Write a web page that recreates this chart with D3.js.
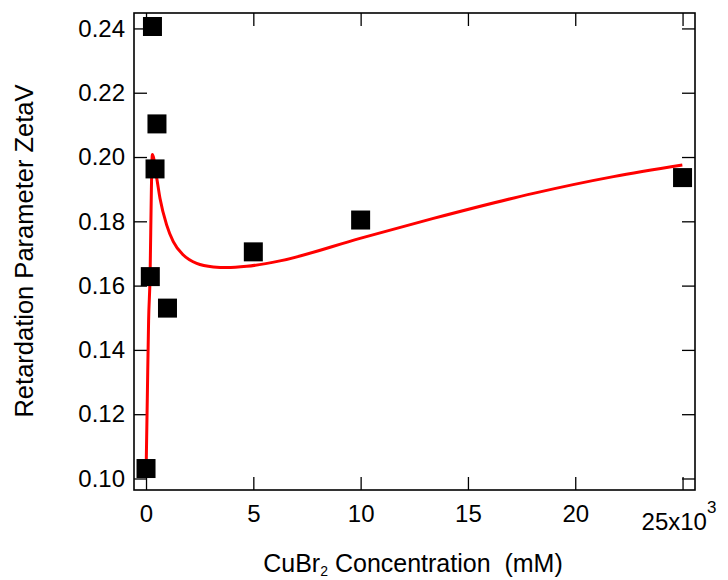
<!DOCTYPE html>
<html>
<head>
<meta charset="utf-8">
<script src="https://cdn.jsdelivr.net/npm/d3@7"></script>
<style>
  html, body { margin: 0; padding: 0; background: #fff; }
  svg { display: block; }
</style>
</head>
<body>
<svg id="chart" width="728" height="580"></svg>
<script>
// Measured points: CuBr2 concentration (mM) and retardation parameter ZetaV
const concX = [0, 200, 300, 420, 510, 1000, 5000, 10000, 25000];
const zetaV = [0.1031, 0.1628, 0.2406, 0.1963, 0.2103, 0.1530, 0.1705, 0.1804, 0.1936];

// Fitted curve, points
const fitX = [0, 60, 120, 190, 250, 294, 500, 650, 960, 1270, 1740, 2360, 3140, 3760, 4690, 6240, 9970, 13390, 18050, 21780, 24990];
const fitY = [0.1005, 0.125, 0.149, 0.1633, 0.190, 0.2008, 0.1934, 0.1872, 0.1789, 0.1737, 0.1695, 0.1669, 0.1658, 0.1656, 0.1660, 0.1677, 0.1747, 0.1809, 0.1887, 0.1939, 0.1975];

// Tick values
const xTicks = [0, 5000, 10000, 15000, 20000, 25000];
const yTicks = [0.10, 0.12, 0.14, 0.16, 0.18, 0.20, 0.22, 0.24];

const FONT = "'Liberation Sans', Arial, Helvetica, sans-serif";
const svg = d3.select("#chart");

const pL = 134, pR = 695, pT = 13, pB = 490;
const x = d3.scaleLinear().domain([-560, 25580]).range([pL, pR]);
const y = d3.scaleLinear().domain([0.09642, 0.2448]).range([pB, pT]);

// Axes (ticks inward on all four sides)
const gx = svg.append("g").attr("transform", `translate(0,${pB})`)
  .call(d3.axisBottom(x).tickValues(xTicks).tickSize(-13).tickSizeOuter(0).tickPadding(15)
    .tickFormat(d => d === 25000 ? "" : d3.format("d")(d / 1000)));
const gxt = svg.append("g").attr("transform", `translate(0,${pT})`)
  .call(d3.axisTop(x).tickValues(xTicks).tickSize(-13).tickSizeOuter(0).tickFormat(""));
const gy = svg.append("g").attr("transform", `translate(${pL},0)`)
  .call(d3.axisLeft(y).tickValues(yTicks).tickSize(-13).tickSizeOuter(0).tickPadding(9)
    .tickFormat(d3.format(".2f")));
const gyr = svg.append("g").attr("transform", `translate(${pR},0)`)
  .call(d3.axisRight(y).tickValues(yTicks).tickSize(-13).tickSizeOuter(0).tickFormat(""));

[gx, gxt, gy, gyr].forEach(g => {
  g.select(".domain").remove();
  g.selectAll(".tick line").attr("stroke", "#000").attr("stroke-width", 1.3);
  g.selectAll("text").attr("font-family", FONT).attr("font-size", 24).attr("fill", "#000");
});

// Frame
svg.append("rect").attr("x", pL).attr("y", pT)
  .attr("width", pR - pL).attr("height", pB - pT)
  .attr("fill", "none").attr("stroke", "#000").attr("stroke-width", 1.6);

// 25x10^3 label
const lab25 = svg.append("text").attr("x", x(25000) - 41).attr("y", 530)
  .attr("font-family", FONT).attr("font-size", 24).attr("fill", "#000");
lab25.append("tspan").text("25x10");
lab25.append("tspan").attr("dy", -17).attr("font-size", 17).text("3");

// Fit curve
const line = d3.line().x((d, i) => x(fitX[i])).y((d, i) => y(fitY[i])).curve(d3.curveMonotoneX);
svg.append("path").datum(fitX).attr("d", line)
  .attr("fill", "none").attr("stroke", "#ff0000").attr("stroke-width", 3);

// Square markers
const S = 19;
svg.append("g").selectAll("rect").data(concX).join("rect")
  .attr("x", (d, i) => x(d) - S / 2).attr("y", (d, i) => y(zetaV[i]) - S / 2)
  .attr("width", S).attr("height", S).attr("fill", "#000");

// Axis titles
const xt = svg.append("text").attr("x", 413).attr("y", 572).attr("text-anchor", "middle")
  .attr("font-family", FONT).attr("font-size", 25).attr("fill", "#000")
  .style("white-space", "pre");
xt.append("tspan").text("CuBr");
xt.append("tspan").attr("font-size", 14).attr("dy", 4).text("2");
xt.append("tspan").attr("dy", -4).text(" Concentration  (mM)");

svg.append("text").attr("transform", "translate(33,251) rotate(-90)")
  .attr("text-anchor", "middle").attr("font-family", FONT).attr("font-size", 25.5).attr("fill", "#000")
  .text("Retardation Parameter ZetaV");
</script>
</body>
</html>
